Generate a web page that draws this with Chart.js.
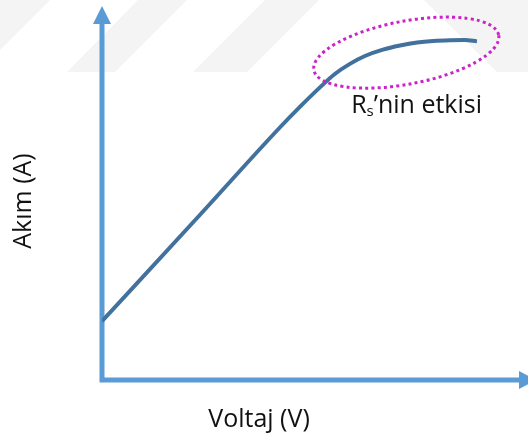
<!DOCTYPE html>
<html>
<head>
<meta charset="utf-8">
<script src="https://cdn.jsdelivr.net/npm/chart.js@4"></script>
<style>
  html, body { margin: 0; padding: 0; background: #fff; }
  #wrap { width: 528px; height: 435px; }
</style>
</head>
<body>
<div id="wrap"><canvas id="ivChart"></canvas></div>
<script>
// I-V curve (arbitrary units, 0..10 on both axes)
const voltage = [0, 2.34, 4.26, 4.74, 5.22, 5.57, 5.93, 6.29, 6.72, 7.13, 7.54, 7.92, 8.33, 8.68, 8.97];
const current = [1.57, 4.40, 6.74, 7.29, 7.81, 8.16, 8.43, 8.64, 8.81, 8.92, 9.00, 9.04, 9.06, 9.065, 9.03];

const xTitle = "Voltaj (V)";
const yTitle = "Akım (A)";

// annotation for the series resistance region
const note = {
  center: [7.28, 8.73], rx: 2.25, ry: 0.84, angle: -10.7,
  at: [5.96, 7.12], main: "R", sub: "s", rest: "’nin etkisi"
};

const axisColor = "#5b9bd5";
const lineColor = "#41719c";
const font = "'Open Sans', 'Liberation Sans', sans-serif";

// faint watermark stripes behind the plot
const watermark = {
  id: "watermark",
  beforeDraw(chart) {
    const c = chart.ctx;
    c.save();
    c.fillStyle = "#f4f4f4";
    const shapes = [
      [[0, 0], [50, 0], [0, 50]],
      [[67, 72], [115, 72], [187, 0], [138, 0]],
      [[193, 72], [247, 72], [319, 0], [265, 0]],
      [[424, 0], [497, 72], [528, 72], [528, 0]]
    ];
    shapes.forEach(s => {
      c.beginPath();
      s.forEach((p, i) => (i ? c.lineTo(p[0], p[1]) : c.moveTo(p[0], p[1])));
      c.closePath();
      c.fill();
    });
    c.restore();
  }
};

// arrow axes + titles
const arrowAxes = {
  id: "arrowAxes",
  beforeDatasetsDraw(chart) {
    const c = chart.ctx, a = chart.chartArea;
    const x0 = a.left, y0 = a.bottom;
    c.save();
    c.strokeStyle = axisColor;
    c.fillStyle = axisColor;
    c.lineWidth = 5;
    c.beginPath();
    c.moveTo(x0, y0 + 2.5);
    c.lineTo(x0, 22);
    c.moveTo(x0 - 2.5, y0);
    c.lineTo(522, y0);
    c.stroke();
    // up arrow head
    c.beginPath();
    c.moveTo(x0, 6);
    c.lineTo(x0 + 9, 24);
    c.lineTo(x0 - 9, 24);
    c.closePath();
    c.fill();
    // right arrow head
    c.beginPath();
    c.moveTo(536, y0);
    c.lineTo(519, y0 - 9);
    c.lineTo(519, y0 + 9);
    c.closePath();
    c.fill();

    c.fillStyle = "#111";
    c.font = "25px " + font;
    c.textAlign = "center";
    c.textBaseline = "middle";
    c.fillText(xTitle, x0 + 157, y0 + 40);
    c.translate(x0 - 78, 201);
    c.rotate(-Math.PI / 2);
    c.fillText(yTitle, 0, 0);
    c.restore();
  }
};

// dotted ellipse and its label
const rsNote = {
  id: "rsNote",
  afterDatasetsDraw(chart) {
    const c = chart.ctx, sx = chart.scales.x, sy = chart.scales.y;
    const cx = sx.getPixelForValue(note.center[0]);
    const cy = sy.getPixelForValue(note.center[1]);
    const rx = sx.getPixelForValue(note.center[0] + note.rx) - cx;
    const ry = cy - sy.getPixelForValue(note.center[1] + note.ry);
    c.save();
    c.strokeStyle = "#cc22cc";
    c.lineWidth = 3;
    c.setLineDash([3, 3.2]);
    c.beginPath();
    c.ellipse(cx, cy, rx, ry, note.angle * Math.PI / 180, 0, Math.PI * 2);
    c.stroke();
    c.setLineDash([]);

    let tx = sx.getPixelForValue(note.at[0]);
    const ty = sy.getPixelForValue(note.at[1]);
    c.fillStyle = "#111";
    c.textBaseline = "alphabetic";
    c.textAlign = "left";
    c.font = "25px " + font;
    c.fillText(note.main, tx, ty);
    tx += c.measureText(note.main).width;
    c.font = "15px " + font;
    c.fillText(note.sub, tx, ty + 3);
    tx += c.measureText(note.sub).width;
    c.font = "25px " + font;
    c.fillText(note.rest, tx, ty);
    c.restore();
  }
};

const ctx = document.getElementById("ivChart").getContext("2d");
new Chart(ctx, {
  type: "line",
  data: {
    datasets: [{
      data: voltage.map((v, i) => ({ x: v, y: current[i] })),
      borderColor: lineColor,
      borderWidth: 4,
      pointRadius: 0,
      cubicInterpolationMode: "monotone",
      fill: false
    }]
  },
  options: {
    responsive: true,
    maintainAspectRatio: false,
    animation: false,
    layout: { padding: { left: 102, right: 8, top: 5, bottom: 55 } },
    plugins: { legend: { display: false }, tooltip: { enabled: false } },
    scales: {
      x: { type: "linear", min: 0, max: 10, display: false },
      y: { type: "linear", min: 0, max: 10, display: false }
    }
  },
  plugins: [watermark, arrowAxes, rsNote]
});
</script>
</body>
</html>
